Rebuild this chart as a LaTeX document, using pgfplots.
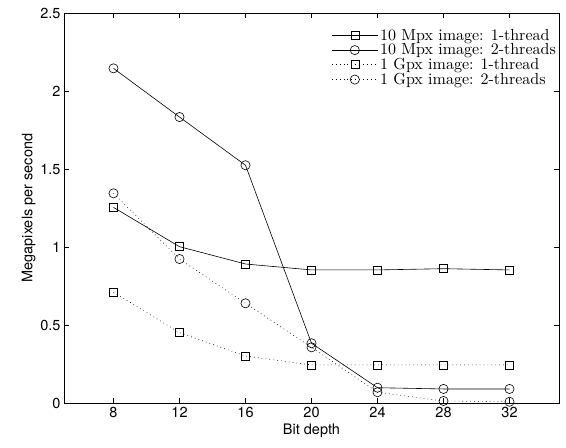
\documentclass[border=0pt]{standalone}
\usepackage{fontspec}
\usepackage{pgfplots}
\pgfplotsset{compat=1.18}
\newfontfamily\helv{TeX Gyre Heros}
\newfontfamily\lmten{lmroman10-regular}[Extension=.otf]

\begin{document}
\begin{tikzpicture}
\begin{axis}[
    name=ax,
    scale only axis,
    width=495pt, height=390pt,
    xmin=5, xmax=35,
    ymin=0, ymax=2.5,
    xtick={8,12,...,32},
    ytick={0,0.5,...,2.5},
    tick align=inside,
    major tick length=5pt,
    axis line style={line width=0.8pt},
    tick style={line width=0.6pt, black},
    /pgf/number format/assume math mode=true,
    tick label style={font=\helv\fontsize{14.5}{16}\selectfont},
    label style={font=\helv\fontsize{14.5}{16}\selectfont},
    xticklabel style={yshift=-1pt},
    xlabel={Bit depth},
    ylabel={Megapixels per second},
    xlabel style={yshift=1pt},
    ylabel style={yshift=-2pt},
    legend style={at={(1,1)}, anchor=north east, draw=none, fill=none,
        font=\lmten\fontsize{16}{16}\selectfont, row sep=-2pt,
        xshift=0pt, yshift=-13pt, inner sep=1pt},
    legend cell align=left,
    legend image code/.code={
        \draw[mark repeat=2, mark phase=2] plot coordinates {(0pt,0pt) (23pt,0pt) (46pt,0pt)};
    },
    every axis plot/.append style={black, line width=0.6pt},
]
% 10 Mpx image, 1 thread
\addplot[mark=square, mark size=4pt, mark options={solid, fill=none}] coordinates {
    (8,1.254) (12,1.002) (16,0.891) (20,0.853) (24,0.853) (28,0.861) (32,0.853)
};
\addlegendentry{10 Mpx image: 1-thread}
% 10 Mpx image, 2 threads
\addplot[mark=o, mark size=4.6pt, mark options={solid, fill=none}] coordinates {
    (8,2.145) (12,1.833) (16,1.524) (20,0.383) (24,0.098) (28,0.090) (32,0.090)
};
\addlegendentry{10 Mpx image: 2-threads}
% 1 Gpx image, 1 thread
\addplot[dash pattern=on 0.7pt off 3.2pt, mark=square, mark size=4pt, mark options={solid, fill=none}] coordinates {
    (8,0.710) (12,0.451) (16,0.301) (20,0.244) (24,0.244) (28,0.244) (32,0.244)
};
\addlegendentry{1 Gpx image: 1-thread}
% 1 Gpx image, 2 threads
\addplot[dash pattern=on 0.7pt off 3.2pt, mark=o, mark size=4.6pt, mark options={solid, fill=none}] coordinates {
    (8,1.344) (12,0.923) (16,0.639) (20,0.357) (24,0.069) (28,0.013) (32,0.008)
};
\addlegendentry{1 Gpx image: 2-threads}
\end{axis}
\pgfresetboundingbox
\path ([shift={(-64pt,-44pt)}]ax.south west) rectangle ([shift={(7pt,13pt)}]ax.north east);
\end{tikzpicture}
\end{document}
